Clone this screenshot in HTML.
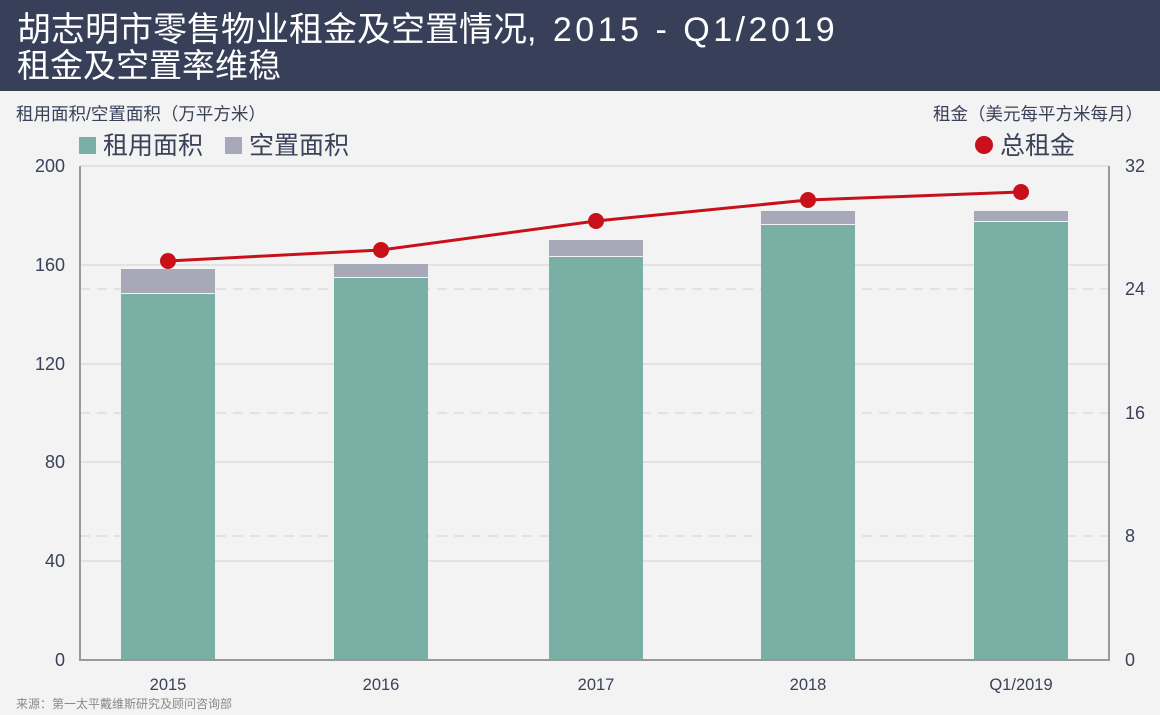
<!DOCTYPE html>
<html><head><meta charset="utf-8"><style>
body{margin:0;width:1160px;height:715px;background:#f3f3f3;font-family:"Liberation Sans","Noto Sans CJK SC",sans-serif;overflow:hidden}
</style></head><body>
<svg width="1160" height="715" xmlns="http://www.w3.org/2000/svg" style="position:absolute;left:0;top:0">
<rect x="0" y="0" width="1160" height="91" fill="#373f59"/>
<text x="17" y="41" font-size="34" fill="#fff" font-family="Liberation Sans,Noto Sans CJK SC,sans-serif">胡志明市零售物业租金及空置情况<tspan letter-spacing="3.5">, 2015 - Q1/2019</tspan></text>
<text x="17" y="77" font-size="33" fill="#fff" font-family="Liberation Sans,Noto Sans CJK SC,sans-serif">租金及空置率维稳</text>
<g font-family="Liberation Sans,Noto Sans CJK SC,sans-serif" fill="#3a4158">
<text x="16" y="120" font-size="17.5">租用面积/空置面积（万平方米）</text>
<text x="1143" y="120" font-size="17.5" text-anchor="end">租金（美元每平方米每月）</text>
<rect x="79" y="137" width="17" height="17" fill="#7aafa6"/>
<text x="103" y="154" font-size="25">租用面积</text>
<rect x="225" y="137" width="17" height="17" fill="#a8a9b8"/>
<text x="249" y="154" font-size="25">空置面积</text>
<circle cx="984" cy="145" r="9" fill="#c8101a"/>
<text x="1000" y="154" font-size="25">总租金</text>
</g>
<g stroke="#e2e2e2" stroke-width="2">
<line x1="80" y1="166" x2="1109" y2="166"/><line x1="80" y1="265" x2="1109" y2="265"/>
<line x1="80" y1="364" x2="1109" y2="364"/><line x1="80" y1="462" x2="1109" y2="462"/>
<line x1="80" y1="561" x2="1109" y2="561"/>
</g>
<g stroke="#e2e2e2" stroke-width="2" stroke-dasharray="10,7">
<line x1="80" y1="289" x2="1109" y2="289"/><line x1="80" y1="413" x2="1109" y2="413"/>
<line x1="80" y1="536" x2="1109" y2="536"/>
</g>
<g fill="#a8a9b8">
<rect x="121" y="269" width="94" height="24"/><rect x="334" y="264" width="94" height="13"/>
<rect x="549" y="240" width="94" height="16"/><rect x="761" y="211" width="94" height="13"/>
<rect x="974" y="211" width="94" height="10"/>
</g>
<g fill="#7aafa6">
<rect x="121" y="294" width="94" height="366"/><rect x="334" y="278" width="94" height="382"/>
<rect x="549" y="257" width="94" height="403"/><rect x="761" y="225" width="94" height="435"/>
<rect x="974" y="222" width="94" height="438"/>
</g>
<line x1="80" y1="166" x2="80" y2="660" stroke="#999" stroke-width="2"/>
<line x1="1109" y1="166" x2="1109" y2="660" stroke="#999" stroke-width="2"/>
<line x1="79" y1="660" x2="1110" y2="660" stroke="#999" stroke-width="2"/>
<polyline points="168,261 381,250 596,221 808,200 1021,192" fill="none" stroke="#c8101a" stroke-width="3"/>
<g fill="#c8101a">
<circle cx="168" cy="261" r="8"/><circle cx="381" cy="250" r="8"/><circle cx="596" cy="221" r="8"/>
<circle cx="808" cy="200" r="8"/><circle cx="1021" cy="192" r="8"/>
</g>
<g font-family="Liberation Sans,sans-serif" font-size="18" fill="#3a4158" text-anchor="end">
<text x="65" y="172">200</text><text x="65" y="271">160</text><text x="65" y="370">120</text>
<text x="65" y="468">80</text><text x="65" y="567">40</text><text x="65" y="666">0</text>
</g>
<g font-family="Liberation Sans,sans-serif" font-size="18" fill="#3a4158">
<text x="1125" y="172">32</text><text x="1125" y="295">24</text><text x="1125" y="419">16</text>
<text x="1125" y="542">8</text><text x="1125" y="666">0</text>
</g>
<g font-family="Liberation Sans,sans-serif" font-size="16.5" fill="#3a4158" text-anchor="middle">
<text x="168" y="690">2015</text><text x="381" y="690">2016</text><text x="596" y="690">2017</text>
<text x="808" y="690">2018</text><text x="1021" y="690">Q1/2019</text>
</g>
<text x="16" y="708" font-size="12" fill="#888" font-family="Liberation Sans,Noto Sans CJK SC,sans-serif">来源：第一太平戴维斯研究及顾问咨询部</text>
</svg>
</body></html>
